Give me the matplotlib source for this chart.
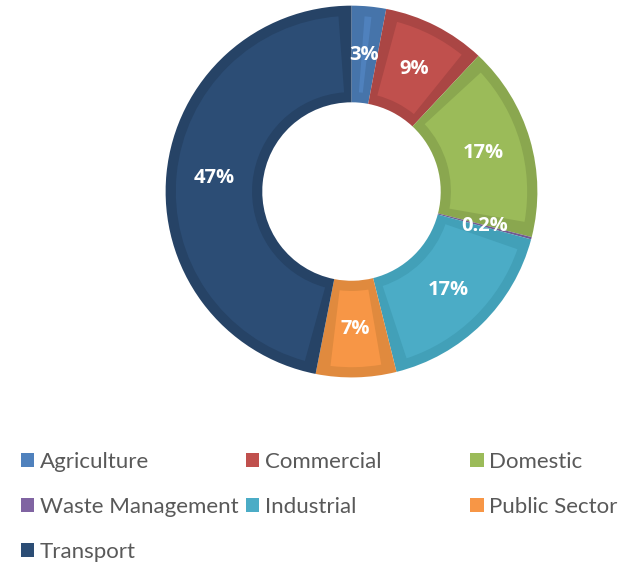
import numpy as np
import matplotlib.pyplot as plt
from matplotlib.patches import Wedge, Patch

# data
sectors = ['Agriculture', 'Commercial', 'Domestic', 'Waste Management',
           'Industrial', 'Public Sector', 'Transport']
shares = [3, 9, 17, 0.2, 17, 7, 47]
labels = ['3%', '9%', '17%', '0.2%', '17%', '7%', '47%']

# office-like palette: face colour and darker bevel rim
face = ['#4f81bd', '#c0504d', '#9bbb59', '#8064a2', '#4bacc6', '#f79646', '#2c4d75']
rim = ['#4674aa', '#aa4644', '#8aa74f', '#715a91', '#42a0b8', '#e08a3e', '#264366']

fig = plt.figure(figsize=(6.27, 5.65), dpi=100)
ax = fig.add_axes([0.2639, 0.332, 0.5934, 0.658])

wedges, _ = ax.pie(shares, colors=rim, startangle=90, counterclock=False,
                   radius=1.0, wedgeprops=dict(width=0.52, linewidth=0))

# lighter inner face to mimic the bevel
inset = 0.055
for w, c in zip(wedges, face):
    r_mid = w.r - w.width / 2
    dth = np.degrees(inset / r_mid)
    t1, t2 = w.theta1 + dth, w.theta2 - dth
    if t2 > t1:
        ax.add_patch(Wedge(w.center, w.r - inset, t1, t2,
                           width=w.width - 2 * inset, facecolor=c, linewidth=0))

# percentage labels at mid-ring
for w, lab in zip(wedges, labels):
    ang = np.radians((w.theta1 + w.theta2) / 2)
    r = w.r - w.width / 2
    ax.text(r * np.cos(ang), r * np.sin(ang), lab, ha='center', va='center',
            color='white', fontsize=14.5, fontweight='bold', family='Open Sans')

ax.set_xlim(-1, 1)
ax.set_ylim(-1, 1)
ax.set_aspect('equal')

# legend laid out row-wise in three columns
col_x = [0.033, 0.392, 0.75]
for j, x in enumerate(col_x):
    idx = list(range(j, len(sectors), 3))
    handles = [Patch(facecolor=face[i], edgecolor='none') for i in idx]
    fig.legend(handles, [sectors[i] for i in idx], loc='upper left',
               bbox_to_anchor=(x, 0.2), frameon=False,
               prop={'family': 'Lato', 'size': 16}, handlelength=0.6,
               handleheight=0.6, handletextpad=0.25, labelspacing=1.12,
               borderaxespad=0, borderpad=0, labelcolor='#595959')

fig.savefig('out.png', dpi=100)
